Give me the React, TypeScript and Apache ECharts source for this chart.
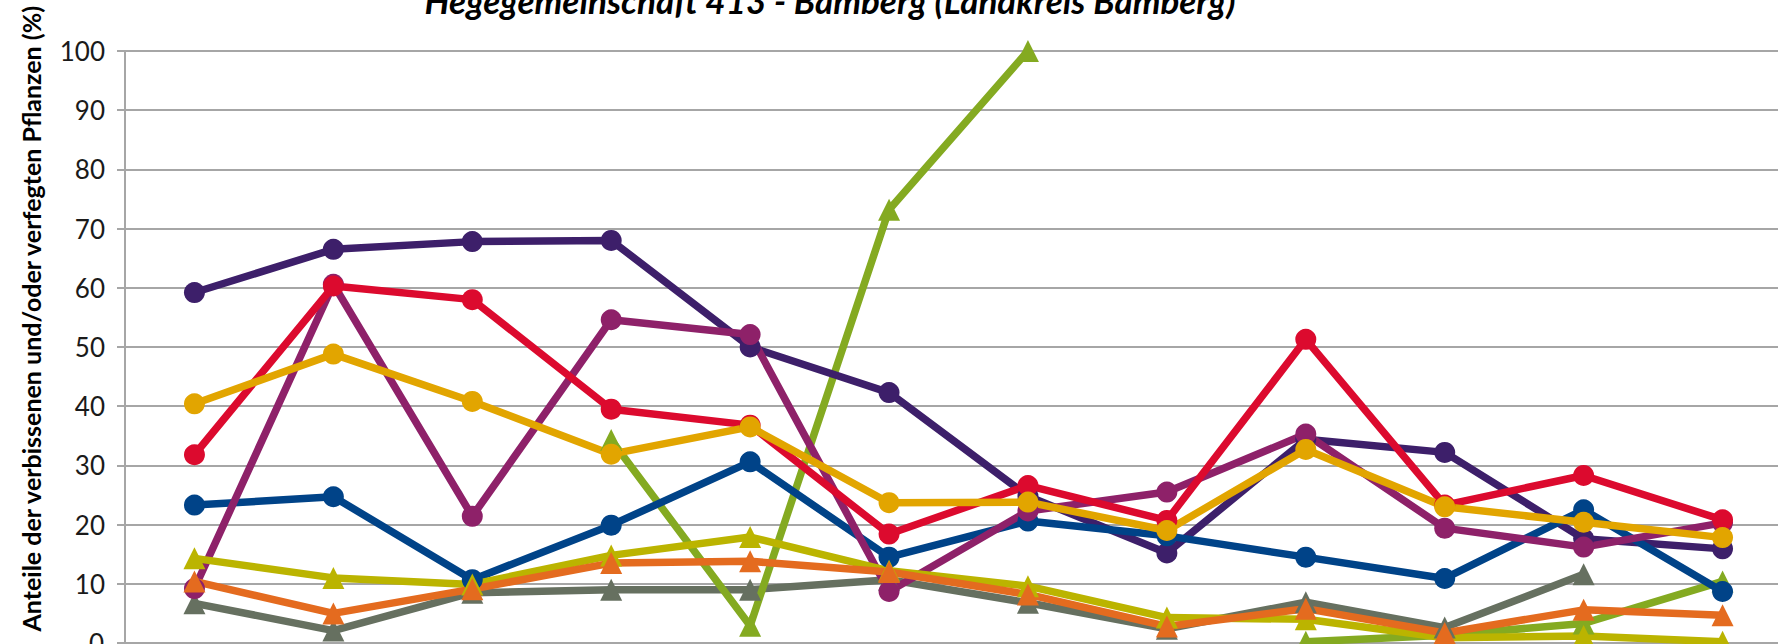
import React, { useEffect, useRef } from "react";
import * as echarts from "echarts";

const categories = ["1991", "1994", "1997", "2000", "2003", "2006", "2009", "2012", "2015", "2018", "2021", "2024"];
const yTicks = [0, 10, 20, 30, 40, 50, 60, 70, 80, 90, 100];

const titleText = "Hegegemeinschaft 413 - Bamberg (Landkreis Bamberg)";
const yAxisName = "Anteile der verbissenen und/oder verfegten Pflanzen (%)";

// circle series
const darkPurple = [59.2, 66.5, 67.8, 68.0, 50.0, 42.3, 24.8, 15.2, 34.4, 32.2, 17.6, 15.9];
const red = [31.8, 60.3, 58.0, 39.5, 36.8, 18.4, 26.6, 20.7, 51.3, 23.3, 28.3, 20.8];
const magenta = [9.2, 60.6, 21.4, 54.6, 52.1, 8.7, 22.3, 25.5, 35.3, 19.4, 16.2, 20.3];
const yellowOrange = [40.4, 48.8, 40.8, 31.9, 36.5, 23.7, 23.8, 19.0, 32.7, 23.0, 20.4, 17.8];
const blue = [23.3, 24.7, 10.7, 19.9, 30.6, 14.5, 20.6, 18.1, 14.5, 10.9, 22.5, 8.7];
// triangle series
const olive = [14.3, 11.0, 9.9, 14.8, 17.9, 12.2, 9.6, 4.3, 4.0, 0.9, 1.2, 0.2];
const orange = [10.4, 5.0, 9.1, 13.5, 13.8, 12.0, 8.2, 2.8, 5.8, 1.7, 5.6, 4.7];
const grayGreen = [6.7, 2.1, 8.5, 9.0, 9.0, 10.7, 6.8, 2.4, 6.9, 2.6, 11.6, null];
const lime = [null, null, null, 34.3, 2.9, 73.2, 100, null, 0.2, 1.3, 3.3, 10.4];

type S = { name: string; data: (number | null)[]; color: string; symbol: string };

const seriesDefs: S[] = [
  { name: "grau", data: grayGreen, color: "#667060", symbol: "triangle" },
  { name: "hellgrün", data: lime, color: "#84AA21", symbol: "triangle" },
  { name: "dunkelviolett", data: darkPurple, color: "#3D1F6A", symbol: "circle" },
  { name: "blau", data: blue, color: "#004388", symbol: "circle" },
  { name: "magenta", data: magenta, color: "#8E2169", symbol: "circle" },
  { name: "rot", data: red, color: "#DC0A2E", symbol: "circle" },
  { name: "gelborange", data: yellowOrange, color: "#E2A500", symbol: "circle" },
  { name: "oliv", data: olive, color: "#BBB400", symbol: "triangle" },
  { name: "orange", data: orange, color: "#E46B1F", symbol: "triangle" },
];

export default function App() {
  const ref = useRef<HTMLDivElement>(null);
  useEffect(() => {
    if (!ref.current) return;
    const chart = echarts.init(ref.current, null, { renderer: "svg" });
    const font = "Lato, 'Open Sans', sans-serif";
    chart.setOption({
      animation: false,
      backgroundColor: "#ffffff",
      grid: { left: 125, top: 51, width: 1667, height: 592, containLabel: false },
      xAxis: {
        type: "category",
        data: categories,
        boundaryGap: true,
        axisLine: { show: true, lineStyle: { color: "#A6A6A6", width: 2 } },
        axisTick: { show: false },
        axisLabel: { show: false },
        splitLine: { show: false },
      },
      yAxis: {
        type: "value",
        min: yTicks[0],
        max: yTicks[yTicks.length - 1],
        interval: 10,
        axisLine: { show: true, lineStyle: { color: "#A6A6A6", width: 2 } },
        axisTick: { show: true, inside: false, length: 8, lineStyle: { color: "#A6A6A6", width: 2 } },
        axisLabel: {
          show: true,
          margin: 20,
          fontSize: 26,
          fontFamily: font,
          color: "#1a1a1a",
          formatter: (v: number) => (v === 0 ? "" : String(v)),
        },
        splitLine: { show: true, lineStyle: { color: "#A6A6A6", width: 2 } },
      },
      graphic: [
        {
          type: "text",
          x: 830,
          y: 0,
          style: {
            text: titleText,
            fontSize: 35,
            fontWeight: "bold",
            fontStyle: "italic",
            fontFamily: font,
            fill: "#000000",
            align: "center",
            verticalAlign: "middle",
          },
        },
        {
          type: "text",
          x: 31,
          y: 6,
          rotation: Math.PI / 2,
          style: {
            text: yAxisName,
            fontSize: 25,
            fontWeight: "bold",
            fontFamily: font,
            fill: "#000000",
            align: "right",
            verticalAlign: "middle",
          },
        },
        {
          type: "text",
          x: 104,
          y: 643,
          style: {
            text: "0",
            fontSize: 26,
            fontFamily: font,
            fill: "#1a1a1a",
            align: "right",
            verticalAlign: "middle",
          },
        },
      ],
      series: seriesDefs.map((s) => ({
        name: s.name,
        type: "line",
        data: s.data,
        connectNulls: false,
        symbol: s.symbol,
        symbolSize: s.symbol === "circle" ? 21 : 22,
        showSymbol: true,
        lineStyle: { color: s.color, width: 7.5 },
        itemStyle: { color: s.color },
        emphasis: { disabled: true },
      })),
    });
    return () => chart.dispose();
  }, []);
  return (
    <div
      ref={ref}
      style={{ position: "fixed", left: 0, top: 0, width: 1800, height: 644, background: "#fff" }}
    />
  );
}
